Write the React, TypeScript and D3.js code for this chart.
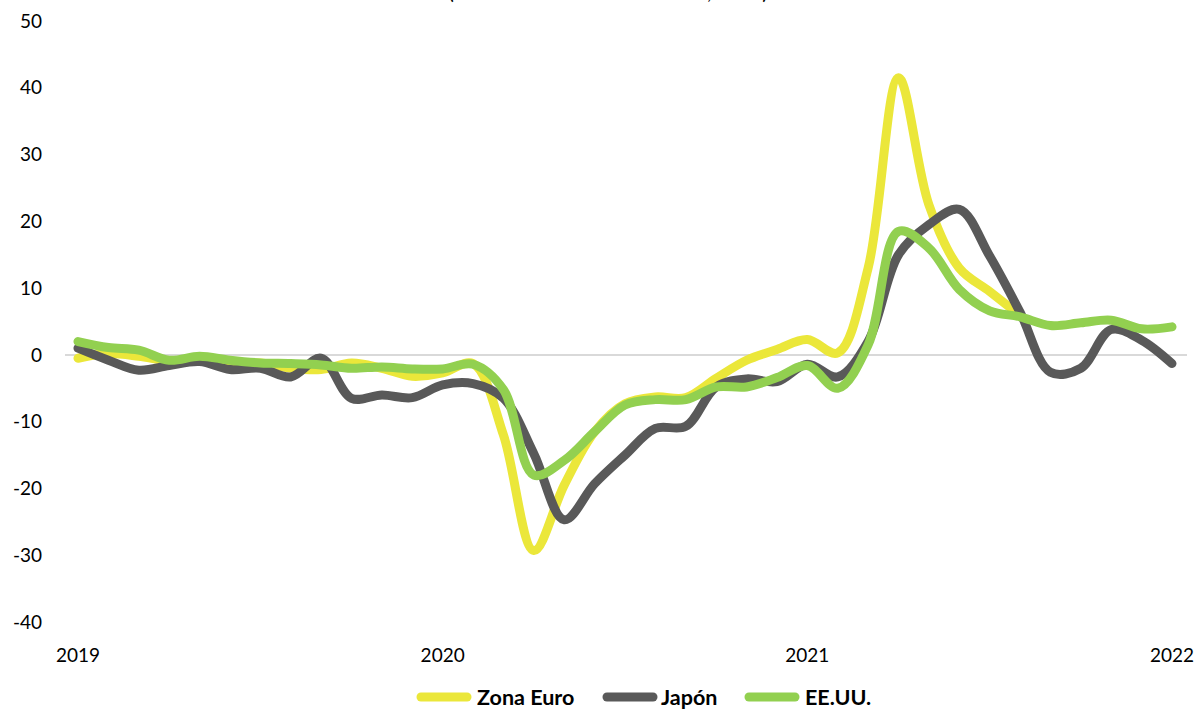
import React from "react";
import * as d3 from "d3";

const monthIndex = d3.range(37);
const xTickLabels = ["2019", "2020", "2021", "2022"];
const xTickIndex = [0, 12, 24, 36];
const yTicks = [-40, -30, -20, -10, 0, 10, 20, 30, 40, 50];

// Jan 2019 .. Aug 2021
const zonaEuro = [
  -0.5, 0.2, -0.2, -0.9, -0.8, -1.6, -1.2, -2.0, -2.2, -1.2, -2.0, -3.2,
  -2.7, -1.3, -12.0, -29.3, -19.5, -11.5, -7.3, -6.3, -6.4, -3.5, -0.8, 0.8,
  2.3, 0.3, 13.0, 41.5, 22.5, 13.0, 9.5, 5.9,
];
// Jan 2019 .. Jan 2022
const japon = [
  1.0, -0.8, -2.3, -1.6, -1.0, -2.2, -2.0, -3.3, -0.5, -6.5, -6.0, -6.4,
  -4.5, -4.3, -6.5, -14.8, -24.7, -19.3, -15.0, -11.0, -10.7, -4.8, -3.6, -4.0,
  -1.4, -3.3, 2.0, 15.0, 19.5, 21.8, 14.8, 6.4, -2.6, -2.0, 3.8, 2.2, -1.3,
];
const eeuu = [
  2.0, 1.1, 0.7, -0.8, -0.2, -0.8, -1.2, -1.3, -1.5, -2.0, -1.8, -2.1,
  -2.1, -1.4, -5.2, -18.0, -15.8, -11.5, -7.5, -6.7, -6.7, -4.8, -4.8, -3.4,
  -1.6, -5.0, 1.5, 18.5, 16.0, 9.8, 6.6, 5.7, 4.4, 4.8, 5.2, 3.9, 4.2,
];

const seriesNames = ["Zona Euro", "Japón", "EE.UU."];
const seriesColors = ["#EBE73A", "#595959", "#92D050"];
const seriesData = [zonaEuro, japon, eeuu];

const titleText = "(Tasa de variación interanual, en %)";

export default function App() {
  const W = 1197;
  const H = 709;
  const x = d3.scaleLinear().domain([0, 36]).range([78, 1172]);
  const y = d3.scaleLinear().domain([-40, 50]).range([622, 21]);
  const line = d3
    .line<number>()
    .x((_, i) => x(monthIndex[i]))
    .y((d) => y(d))
    .curve(d3.curveCatmullRom.alpha(0.5));

  const legendItems = [
    { sx: 421, tx: 477 },
    { sx: 607, tx: 661 },
    { sx: 749, tx: 805 },
  ];

  return (
    <div style={{ position: "absolute", left: 0, top: 0 }}>
      <svg width={W} height={H} style={{ display: "block", overflow: "hidden" }}>
        <rect width={W} height={H} fill="#ffffff" />
        <text
          x={608}
          y={-1}
          textAnchor="middle"
          fontFamily="Lato, sans-serif"
          fontSize={21}
          fill="#000"
        >
          {titleText}
        </text>
        {/* zero gridline */}
        <line x1={65} x2={1187} y1={y(0)} y2={y(0)} stroke="#D9D9D9" strokeWidth={2} />
        {/* y tick labels */}
        {yTicks.map((t) => (
          <text
            key={t}
            x={42}
            y={y(t)}
            dy="0.35em"
            textAnchor="end"
            fontFamily="Lato, sans-serif"
            fontSize={19}
            fill="#000"
          >
            {t}
          </text>
        ))}
        {/* x tick labels */}
        {xTickLabels.map((lab, i) => (
          <text
            key={lab}
            x={x(xTickIndex[i])}
            y={655}
            dy="0.35em"
            textAnchor="middle"
            fontFamily="Lato, sans-serif"
            fontSize={19}
            fill="#000"
          >
            {lab}
          </text>
        ))}
        {/* series */}
        {seriesData.map((d, k) => (
          <path
            key={seriesNames[k]}
            d={line(d) || ""}
            fill="none"
            stroke={seriesColors[k]}
            strokeWidth={9}
            strokeLinecap="round"
            strokeLinejoin="round"
          />
        ))}
        {/* legend */}
        {seriesNames.map((n, k) => (
          <g key={n}>
            <line
              x1={legendItems[k].sx}
              x2={legendItems[k].sx + 46}
              y1={697}
              y2={697}
              stroke={seriesColors[k]}
              strokeWidth={9}
              strokeLinecap="round"
            />
            <text
              x={legendItems[k].tx}
              y={697}
              dy="0.35em"
              fontFamily="Lato, sans-serif"
              fontWeight="bold"
              fontSize={21.5}
              fill="#000"
            >
              {n}
            </text>
          </g>
        ))}
      </svg>
    </div>
  );
}
